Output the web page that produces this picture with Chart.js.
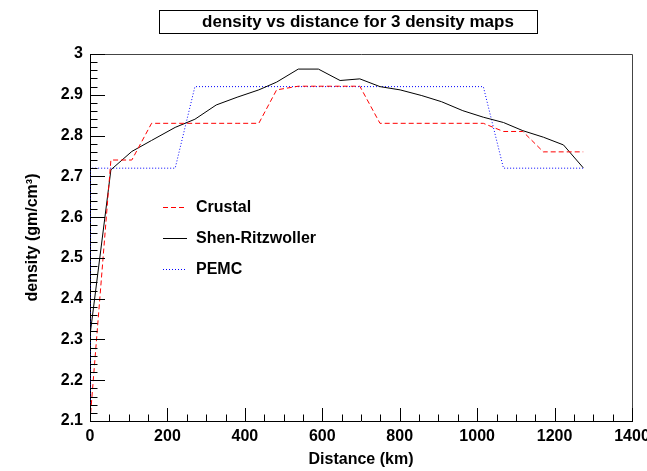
<!DOCTYPE html>
<html>
<head>
<meta charset="utf-8">
<script src="https://cdn.jsdelivr.net/npm/chart.js@4.4.0/dist/chart.umd.min.js"></script>
<style>
  body { margin: 0; background: #fff; }
  canvas { display: block; }
</style>
</head>
<body>
<canvas id="chart" width="647" height="471"></canvas>
<script>
// values
const distance = [0, 54, 108, 159, 220, 271, 326, 380, 436, 482, 538, 590, 646, 697, 749, 801, 857, 908, 963, 1016, 1068, 1118, 1171, 1223, 1274];
const crustal = [2.10, 2.74, 2.74, 2.83, 2.83, 2.83, 2.83, 2.83, 2.83, 2.912, 2.921, 2.921, 2.921, 2.921, 2.83, 2.83, 2.83, 2.83, 2.83, 2.83, 2.81, 2.81, 2.76, 2.76, 2.76];
const shenRitzwoller = [2.31, 2.716, 2.761, 2.788, 2.820, 2.840, 2.875, 2.894, 2.912, 2.931, 2.963, 2.963, 2.935, 2.939, 2.920, 2.912, 2.898, 2.883, 2.861, 2.845, 2.832, 2.812, 2.796, 2.777, 2.721];
const pemcDistance = [0, 0, 220, 271, 1016, 1068, 1274];
const pemc = [2.10, 2.72, 2.72, 2.92, 2.92, 2.72, 2.72];

const seriesNames = ['Crustal', 'Shen-Ritzwoller', 'PEMC'];
const chartTitle = 'density vs distance for 3 density maps';
const xTitle = 'Distance (km)';
const yTitle = 'density (gm/cm\u00B3)';

const FONT = 'Liberation Sans, Arial, Helvetica, sans-serif';

function toPoints(xs, ys) {
  return xs.map((x, i) => ({ x: x, y: ys[i] }));
}

// ROOT style: ticks drawn inside the frame, grey frame on top/right
const frameTicks = {
  id: 'frameTicks',
  afterDatasetsDraw(chart) {
    const ctx = chart.ctx;
    const a = chart.chartArea;
    const xs = chart.scales.x, ys = chart.scales.y;
    ctx.save();
    ctx.lineWidth = 1;
    ctx.strokeStyle = '#444';
    ctx.beginPath();
    ctx.moveTo(a.left, a.top + 0.5);
    ctx.lineTo(a.right + 0.5, a.top + 0.5);
    ctx.lineTo(a.right + 0.5, a.bottom);
    ctx.stroke();

    ctx.strokeStyle = '#000';
    ctx.beginPath();
    for (let v = 0; v <= 1400; v += 50) {
      const px = Math.round(xs.getPixelForValue(v)) + 0.5;
      const len = v % 200 === 0 ? 13 : 6.5;
      ctx.moveTo(px, a.bottom);
      ctx.lineTo(px, a.bottom - len);
    }
    for (let i = 0; i <= 45; i++) {
      const v = 2.1 + i * 0.02;
      const py = Math.round(ys.getPixelForValue(v)) + 0.5;
      const len = i % 5 === 0 ? 15 : 7.5;
      ctx.moveTo(a.left, py);
      ctx.lineTo(a.left + len, py);
    }
    ctx.stroke();
    ctx.restore();
  }
};

// title box and legend
const annotations = {
  id: 'annotations',
  afterDraw(chart) {
    const ctx = chart.ctx;
    ctx.save();
    ctx.strokeStyle = '#000';
    ctx.lineWidth = 1;
    ctx.strokeRect(159.5, 10.5, 378, 23);
    ctx.fillStyle = '#000';
    ctx.font = 'bold 17px ' + FONT;
    ctx.textAlign = 'center';
    ctx.textBaseline = 'middle';
    ctx.fillText(chartTitle, 358, 22);

    ctx.font = 'bold 16px ' + FONT;
    ctx.textAlign = 'left';
    const rows = [207, 238, 269];
    chart.data.datasets.forEach((ds, i) => {
      const y = rows[i] + 0.5;
      ctx.strokeStyle = ds.borderColor;
      ctx.setLineDash(ds.borderDash || []);
      ctx.beginPath();
      ctx.moveTo(163, y);
      ctx.lineTo(187, y);
      ctx.stroke();
      ctx.setLineDash([]);
      ctx.fillText(ds.label, 196, rows[i] + 1);
    });
    ctx.restore();
  }
};

new Chart(document.getElementById('chart'), {
  type: 'line',
  data: {
    datasets: [
      {
        label: seriesNames[0],
        data: toPoints(distance, crustal),
        borderColor: '#ff0000',
        borderDash: [5, 3],
        borderWidth: 1
      },
      {
        label: seriesNames[1],
        data: toPoints(distance, shenRitzwoller),
        borderColor: '#000000',
        borderWidth: 1
      },
      {
        label: seriesNames[2],
        data: toPoints(pemcDistance, pemc),
        borderColor: '#0000ff',
        borderDash: [1, 2],
        borderWidth: 1
      }
    ]
  },
  options: {
    responsive: false,
    animation: false,
    elements: { point: { radius: 0 }, line: { tension: 0 } },
    layout: { padding: { top: 54, right: 15, left: 0, bottom: 0 } },
    plugins: {
      legend: { display: false },
      tooltip: { enabled: false }
    },
    scales: {
      x: {
        type: 'linear',
        min: 0,
        max: 1400,
        ticks: {
          stepSize: 200,
          padding: 6,
          color: '#000',
          font: { family: FONT, size: 16, weight: 'bold' },
          maxRotation: 0,
          callback: v => String(v)
        },
        grid: { drawOnChartArea: false, drawTicks: false },
        border: { color: '#000', width: 1 },
        title: {
          display: true,
          text: xTitle,
          color: '#000',
          font: { family: FONT, size: 16, weight: 'bold' },
          padding: { top: 0, bottom: 2 }
        },
        afterFit(scale) {
          scale.height = 50;
          scale.paddingLeft = 0;
          scale.paddingRight = 0;
        }
      },
      y: {
        min: 2.1,
        max: 3,
        ticks: {
          stepSize: 0.1,
          padding: 7,
          color: '#000',
          font: { family: FONT, size: 16, weight: 'bold' },
          callback: v => String(Number(v.toFixed(1)))
        },
        grid: { drawOnChartArea: false, drawTicks: false },
        border: { color: '#000', width: 1 },
        title: {
          display: true,
          text: yTitle,
          color: '#000',
          font: { family: FONT, size: 16, weight: 'bold' },
          padding: { top: 23, bottom: 0 }
        },
        afterFit(scale) {
          scale.width = 90;
          scale.paddingTop = 0;
          scale.paddingBottom = 0;
        }
      }
    }
  },
  plugins: [frameTicks, annotations]
});
</script>
</body>
</html>
